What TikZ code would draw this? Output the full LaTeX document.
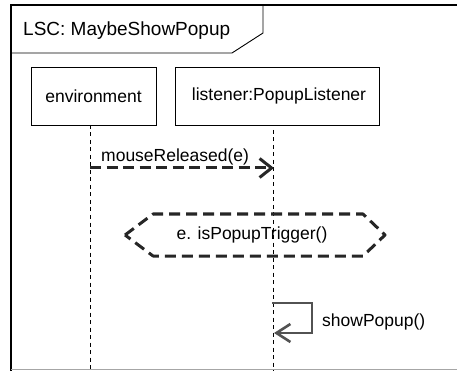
\documentclass[tikz,border=0pt]{standalone}
\usepackage{fontspec}
\setmainfont{Liberation Sans}
\usetikzlibrary{arrows.meta}
\tikzset{
  lbl/.style={font=\fontsize{17.5}{20}\selectfont, inner sep=0pt},
  lifebox/.style={draw=black, line width=0.9pt, fill=white, minimum height=58pt, inner sep=0pt, font=\fontsize{17.5}{20}\selectfont},
  lifeline/.style={draw=black, line width=1pt, dash pattern=on 4pt off 3.5pt},
  msg/.style={draw=black!85, line width=3pt, dash pattern=on 11pt off 5.5pt, -{Straight Barb[length=12pt,width=19pt,line width=3pt]}},
  selfmsg/.style={draw=black!68, line width=2.6pt, -{Straight Barb[length=14pt,width=18pt,line width=2.6pt]}},
  cond/.style={draw=black!85, line width=3pt, dash pattern=on 11pt off 6pt, line join=round}
}
\begin{document}
\begin{tikzpicture}[x=1pt,y=-1pt]
\useasboundingbox (0,0) rectangle (457,371);
% frame
\draw[line width=2.2pt] (457,5) -- (11,5) -- (11,371);
\draw[black!35, line width=0.8pt] (11,369.5) -- (457,369.5);
% name tab
\draw[line width=0.9pt] (11,53) -- (232,53) -- (263,33) -- (263,5);
\node[lbl, anchor=west, font=\fontsize{19}{22}\selectfont] (title) at (23,31) {LSC: MaybeShowPopup};
% instances
\node[lifebox, minimum width=125pt] (env) at (93.5,96) {environment};
\node[lifebox, minimum width=204pt] (lis) at (277,96) {\hspace*{4pt}listener:PopupListener};
\coordinate (envtop) at (90,125);
\coordinate (envbot) at (90,371);
\coordinate (listop) at (273,130);
\coordinate (lisbot) at (273,371);
\draw[lifeline] (envtop) -- (envbot);
\draw[lifeline] (listop) -- (lisbot);
% message
\coordinate (m1s) at (90,168);
\coordinate (m1e) at (274,168);
\draw[msg] (m1s) -- (m1e);
\node[lbl, anchor=base west] (m1) at (101,162) {mouseReleased(e)};
% condition
\node[lbl] (c1) at (252,235) {e. isPopupTrigger()};
\draw[cond] (125,235) -- (153,214) -- (363,214) -- (385,235) -- (363,256) -- (153,256) -- cycle;
% self message
\coordinate (s1a) at (272,303);
\coordinate (s1b) at (312,303);
\coordinate (s1c) at (312,333);
\coordinate (s1d) at (274,333);
\draw[selfmsg] (s1a) -- (s1b) -- (s1c) -- (s1d);
\node[lbl, anchor=west] (s1) at (322,322) {showPopup()};
\end{tikzpicture}
\end{document}
